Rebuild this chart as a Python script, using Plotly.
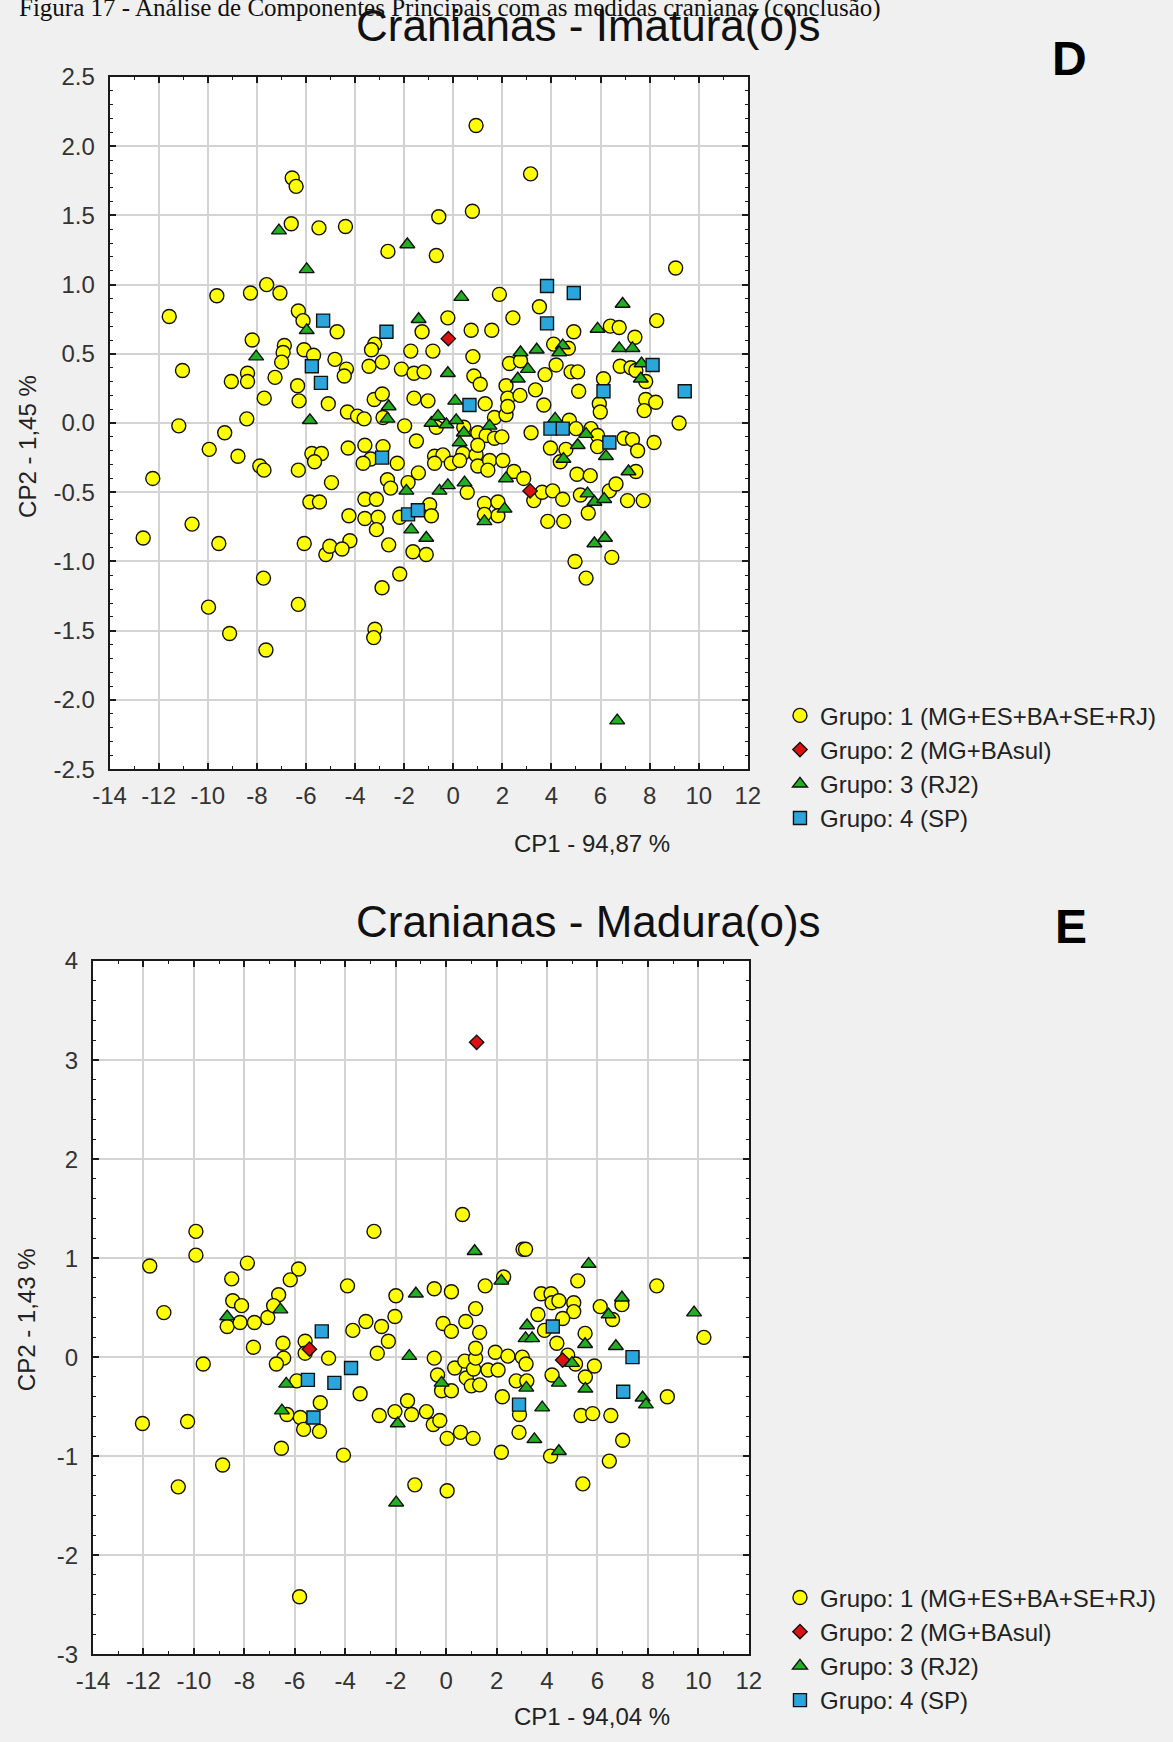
import plotly.graph_objects as go

W, H = 1173, 1742

GROUP_NAMES = [
    "Grupo: 1 (MG+ES+BA+SE+RJ)",
    "Grupo: 2 (MG+BAsul)",
    "Grupo: 3 (RJ2)",
    "Grupo: 4 (SP)",
]

# ---------------- Panel D: Cranianas - Imatura(o)s ----------------
d_g1_x = [0.93, 3.15, -6.56, -6.40, 0.78, -0.59, -6.60, -5.47, -4.39, -2.66, -0.69, 9.06,
          -9.63, -8.26, -7.60, -7.06, -11.57, -6.31, -6.12, -8.19, -6.88, -6.93, -6.08, -5.69,
          -6.99, -11.03, -9.04, -8.38, -8.38, -7.26, -6.34, -7.70, -6.28, -5.09, -11.18, -8.41,
          -9.31, -9.94, -8.77, -7.88, -7.71, -6.31, -12.24, -5.76, -5.37, -5.65,
          -12.63, -10.64, -9.55, -9.97, -9.11, -7.73, -7.63, -6.31, -6.07, -5.84, -5.45, -5.19,
          -5.03, -3.19, -3.24,
          1.88, 3.51, -0.22, 2.43, 8.29, -1.27, 0.73, 1.57, -4.73, 4.91, 6.40, 6.76, 7.40, -3.20,
          -3.33, -1.73, -0.83, 0.80, 4.09, 4.69, -4.82, -4.35, -4.44, -3.43, -2.89, -2.11, -1.60,
          -1.19, 0.84, 1.10, 2.29, 2.74, 4.19, 3.74, 4.80, 5.07, 6.80, 7.24, 7.44, 7.84, 2.15,
          3.35, 2.22, 2.72, 6.12, 5.11, 3.69, 5.95, 5.99, 7.84, 8.25, 7.78, 9.20, -3.22, -2.89,
          -1.60, -1.03, 1.30, -4.31, -3.90, -3.63, -2.86, -1.98, -0.69, 0.43, 1.68, 1.00, 1.34,
          1.68, 1.98, 2.15, 2.22, 3.17, 4.73, 5.00, 5.61, 5.88, 6.96, 7.30, 7.51, 8.18, -4.28,
          -3.60, -3.36, -3.67, -2.28, -2.86, -1.50, -0.76, -0.42, -0.08, -0.76, 0.39, 0.26, 0.93,
          1.00, 1.48, 1.41, 2.02, 1.00, 3.96, 4.59, 4.36, 5.88, -4.96, -1.42, -2.68, -2.55, -1.84,
          -3.60, -3.13, -4.25, -3.60, -3.06, -3.13, -2.18, -0.96, -0.89, 0.57, -2.63, -1.64,
          -1.10, -2.18, -2.90, -4.21, -4.53, 2.47, 2.87, 3.28, 3.62, 4.05, 4.46, 1.27, 1.82, 1.82,
          1.27, 3.85, 4.50, 5.04, 5.58, 5.18, 5.50, 6.36, 6.63, 7.10, 7.74, 7.44, 6.46, 4.96, 5.41]
d_g1_y = [2.15, 1.80, 1.77, 1.71, 1.53, 1.49, 1.44, 1.41, 1.42, 1.24, 1.21, 1.12,
          0.92, 0.94, 1.00, 0.94, 0.77, 0.81, 0.74, 0.60, 0.56, 0.51, 0.53, 0.49,
          0.44, 0.38, 0.30, 0.36, 0.30, 0.33, 0.27, 0.18, 0.16, 0.14, -0.02, 0.03,
          -0.07, -0.19, -0.24, -0.31, -0.34, -0.34, -0.40, -0.22, -0.22, -0.28,
          -0.83, -0.73, -0.87, -1.33, -1.52, -1.12, -1.64, -1.31, -0.87, -0.57, -0.57, -0.95,
          -0.89, -1.49, -1.55,
          0.93, 0.84, 0.76, 0.76, 0.74, 0.66, 0.67, 0.67, 0.66, 0.66, 0.70, 0.69, 0.62, 0.57,
          0.53, 0.52, 0.52, 0.48, 0.57, 0.54, 0.46, 0.39, 0.34, 0.41, 0.44, 0.39, 0.36,
          0.37, 0.34, 0.28, 0.43, 0.45, 0.42, 0.35, 0.37, 0.37, 0.41, 0.40, 0.38, 0.30, 0.27,
          0.24, 0.18, 0.20, 0.32, 0.23, 0.13, 0.14, 0.08, 0.17, 0.15, 0.09, 0.00, 0.17, 0.21,
          0.18, 0.16, 0.14, 0.08, 0.05, 0.03, 0.04, -0.02, -0.03, -0.03, 0.04, -0.07, -0.09,
          -0.11, -0.10, 0.06, 0.12, -0.07, 0.02, -0.04, -0.04, -0.09, -0.11, -0.12, -0.20, -0.14, -0.18,
          -0.16, -0.26, -0.29, -0.29, -0.17, -0.13, -0.24, -0.23, -0.29, -0.29, -0.22, -0.27, -0.23,
          -0.31, -0.27, -0.34, -0.27, -0.16, -0.18, -0.19, -0.28, -0.17, -0.43, -0.36, -0.41, -0.47, -0.43,
          -0.55, -0.55, -0.67, -0.69, -0.68, -0.77, -0.68, -0.59, -0.67, -0.50, -0.88, -0.93,
          -0.95, -1.09, -1.19, -0.85, -0.91, -0.35, -0.40, -0.56, -0.50, -0.49, -0.55, -0.58, -0.57, -0.67,
          -0.66, -0.71, -0.71, -0.37, -0.38, -0.52, -0.65, -0.49, -0.44, -0.56, -0.56, -0.35, -0.97, -1.00, -1.12]

d_g2_x = [-0.20, 3.13]
d_g2_y = [0.61, -0.49]

d_g3_x = [-7.10, -1.87, -5.97, -5.97, -8.03, -5.84, 6.68,
          0.33, 6.90, -1.41, 5.88, 2.74, 3.40, 4.46, 4.32, 6.76, 7.30, -0.22, 3.04, 7.67, 7.64,
          2.63, -2.63, -2.68, 0.08, -0.89, -0.62, -0.28, 0.12, 0.43, 0.26, 1.48, 4.15, 5.41, 5.07,
          6.22, 4.49, -1.91, -0.56, -0.22, 0.46, -1.71, -1.10, 2.15, 2.09, 1.27, 5.47, 5.75, 6.15,
          7.14, 5.75, 6.18]
d_g3_y = [1.39, 1.29, 1.11, 0.67, 0.48, 0.02, -2.15,
          0.91, 0.86, 0.75, 0.68, 0.51, 0.53, 0.56, 0.51, 0.54, 0.54, 0.36, 0.39, 0.43, 0.32,
          0.32, 0.12, 0.03, 0.16, 0.00, 0.05, -0.01, 0.02, -0.07, -0.14, -0.02, 0.03, -0.08, -0.16,
          -0.24, -0.26, -0.49, -0.49, -0.45, -0.43, -0.77, -0.83, -0.40, -0.62, -0.71, -0.51, -0.57, -0.55,
          -0.35, -0.87, -0.83]

d_g4_x = [-5.30, -5.76, -5.39, 3.82, 4.91, 3.82, -2.72, 8.12, 6.12, 9.43, 0.66, 3.96, 4.46,
          6.36, -2.90, -1.84, -1.44]
d_g4_y = [0.74, 0.41, 0.29, 0.99, 0.94, 0.72, 0.66, 0.42, 0.23, 0.23, 0.13, -0.04, -0.04,
          -0.14, -0.25, -0.66, -0.63]

# ---------------- Panel E: Cranianas - Madura(o)s ----------------
e_g1_x = [-9.92, -9.92, -11.75, -11.19, -8.50, -7.88, -8.46, -8.11, -8.68, -8.17, -7.60, -7.07,
          -7.64, -9.63, -12.04, -10.25, -8.86, -10.62, -5.81,
          0.65, -2.86, 3.05, 3.15, 8.35, 10.22, -5.85, -6.18, -6.64, -6.84, -3.91, -1.99, -0.47,
          0.21, 1.55, 2.28, 5.22, 3.77, 4.16, 4.20, 4.47, 5.06, 5.06, 3.64, 4.62, 6.11, 6.60, 6.97,
          1.17, -0.12, 0.21, 0.78, 1.33, -2.03, -3.18, -2.56, -3.70, -2.29, -2.73, 3.90, 4.39,
          5.51, -6.47, -6.44, -6.73, -5.59, -5.59, -4.66, -5.92, -3.41, -0.47, -0.34, -0.18, 0.21,
          0.34, 0.74, 0.80, 1.09, 1.17, 1.17, 1.00, 1.33, 1.66, 1.95, 2.06, 2.45, 3.02, 3.17, 2.78,
          3.20, 2.23, 2.91, 4.20, 4.82, 5.13, 5.52, 5.88, 8.77, 5.35, 5.81, 6.53, 7.00, 6.47, 5.42,
          4.14, 2.89, 2.19, 0.04, 0.57, 1.07, -0.51, -0.25, -0.78, -1.53, -1.37, -2.03, -2.65,
          -1.24, 0.04, -4.07, -6.53, -6.31, -5.78, -4.99, -5.65, -5.02]
e_g1_y = [1.27, 1.03, 0.92, 0.45, 0.79, 0.95, 0.57, 0.52, 0.31, 0.35, 0.35, 0.40,
          0.10, -0.07, -0.67, -0.65, -1.09, -1.31, -2.42,
          1.44, 1.27, 1.09, 1.09, 0.72, 0.20, 0.89, 0.78, 0.63, 0.52, 0.72, 0.62, 0.69,
          0.66, 0.72, 0.81, 0.77, 0.64, 0.64, 0.55, 0.57, 0.55, 0.46, 0.43, 0.39, 0.51, 0.38, 0.53,
          0.49, 0.34, 0.26, 0.36, 0.25, 0.41, 0.36, 0.31, 0.27, 0.16, 0.04, 0.27, 0.14,
          0.24, 0.14, -0.01, -0.07, 0.16, 0.04, -0.01, -0.24, -0.37, -0.01, -0.18, -0.34, -0.34,
          -0.11, -0.04, -0.21, -0.12, -0.01, 0.09, -0.29, -0.28, -0.13, 0.05, -0.13, 0.01, 0.00, -0.07, -0.24,
          -0.24, -0.40, -0.58, -0.18, 0.02, -0.07, -0.20, -0.09, -0.40, -0.59, -0.57, -0.59, -0.84, -1.05, -1.28,
          -1.00, -0.76, -0.96, -0.82, -0.76, -0.82, -0.68, -0.64, -0.55, -0.44, -0.58, -0.55, -0.59,
          -1.29, -1.35, -0.99, -0.92, -0.58, -0.61, -0.46, -0.73, -0.75]

e_g2_x = [1.21, -5.42, 4.62]
e_g2_y = [3.18, 0.08, -0.03]

e_g3_x = [-8.68, -6.57, 1.13, 5.65, 9.83, -1.20, 2.19, 6.44, 6.97, 3.21, 3.15, 3.41, 5.51,
          6.73, -6.34, -1.46, -0.18, 3.18, 4.99, 5.52, 4.47, 7.79, 7.92, 3.81, 4.47, 3.50,
          -1.92, -6.51, -1.98]
e_g3_y = [0.41, 0.48, 1.07, 0.94, 0.45, 0.64, 0.77, 0.43, 0.60, 0.32, 0.19, 0.19, 0.13,
          0.11, -0.27, 0.01, -0.26, -0.31, -0.06, -0.32, -0.26, -0.41, -0.48, -0.51, -0.95, -0.83,
          -0.67, -0.54, -1.47]

e_g4_x = [-4.93, -3.77, -5.48, -4.43, -5.26, 4.23, 7.39, 7.02, 2.89]
e_g4_y = [0.26, -0.11, -0.23, -0.26, -0.61, 0.31, 0.00, -0.35, -0.48]

# ---------------- axis ticks ----------------
x_tickvals = list(range(-14, 13, 2))
x_ticktext = [str(v) for v in x_tickvals]
d_y_tickvals = [-2.5, -2.0, -1.5, -1.0, -0.5, 0.0, 0.5, 1.0, 1.5, 2.0, 2.5]
d_y_ticktext = ["-2.5", "-2.0", "-1.5", "-1.0", "-0.5", "0.0", "0.5", "1.0", "1.5", "2.0", "2.5"]
e_y_tickvals = [-3, -2, -1, 0, 1, 2, 3, 4]
e_y_ticktext = ["-3", "-2", "-1", "0", "1", "2", "3", "4"]

FONT = "Liberation Sans, Arial, sans-serif"
TEXT = "#222222"

STYLES = [
    dict(symbol="circle", size=14, color="#ffff00"),
    dict(symbol="diamond", size=11, color="#dd1111"),
    dict(symbol="triangle-up", size=13, color="#22b022"),
    dict(symbol="square", size=13, color="#2aa6dc"),
]

# page-pixel layout of the two graph windows
TOP_BOX = dict(left=95, right=750, top=64, bottom=767)
BOT_BOX = dict(left=78, right=751, top=962, bottom=1666)


def px_x(p):
    return p / W


def px_y(p):
    return 1 - p / H


fig = go.Figure()

panels = [
    ("x", "y", "legend",
     [(d_g1_x, d_g1_y), (d_g2_x, d_g2_y), (d_g3_x, d_g3_y), (d_g4_x, d_g4_y)]),
    ("x2", "y2", "legend2",
     [(e_g1_x, e_g1_y), (e_g2_x, e_g2_y), (e_g3_x, e_g3_y), (e_g4_x, e_g4_y)]),
]
for xa, ya, leg, groups in panels:
    for name, (gx, gy), st in zip(GROUP_NAMES, groups, STYLES):
        fig.add_trace(go.Scatter(
            x=gx, y=gy, mode="markers", name=name, xaxis=xa, yaxis=ya, legend=leg,
            marker=dict(symbol=st["symbol"], size=st["size"], color=st["color"],
                        line=dict(color="#111111", width=1.4)),
            hoverinfo="skip",
        ))


def axis_common():
    return dict(
        showgrid=True, gridcolor="#d3d3d3", gridwidth=1.5,
        showline=True, linecolor="#1a1a1a", linewidth=2, mirror="allticks",
        ticks="inside", ticklen=6, tickwidth=1.5, tickcolor="#1a1a1a",
        zeroline=False, tickmode="array",
        tickfont=dict(family=FONT, size=24, color="#333333"),
        fixedrange=True,
    )


def minor(step):
    return dict(tickmode="linear", tick0=0, dtick=step, ticks="inside", ticklen=3,
                tickwidth=1, tickcolor="#1a1a1a", showgrid=False)


xa_top = axis_common()
xa_top.update(domain=[px_x(TOP_BOX["left"]), px_x(TOP_BOX["right"])], range=[-14, 12], anchor="y",
              tickvals=x_tickvals, ticktext=x_ticktext, ticklabelstandoff=4, minor=minor(1))
ya_top = axis_common()
ya_top.update(domain=[px_y(TOP_BOX["bottom"]), px_y(TOP_BOX["top"])], range=[-2.5, 2.5], anchor="x",
              tickvals=d_y_tickvals, ticktext=d_y_ticktext, ticklabelstandoff=8, minor=minor(0.1))
xa_bot = axis_common()
xa_bot.update(domain=[px_x(BOT_BOX["left"]), px_x(BOT_BOX["right"])], range=[-14, 12], anchor="y2",
              tickvals=x_tickvals, ticktext=x_ticktext, ticklabelstandoff=4, minor=minor(1))
ya_bot = axis_common()
ya_bot.update(domain=[px_y(BOT_BOX["bottom"]), px_y(BOT_BOX["top"])], range=[-3, 4], anchor="x2",
              tickvals=e_y_tickvals, ticktext=e_y_ticktext, ticklabelstandoff=8, minor=minor(0.2))

legend_style = dict(
    xanchor="left", yanchor="top", bgcolor="rgba(0,0,0,0)", borderwidth=0,
    font=dict(family=FONT, size=24, color=TEXT), itemsizing="trace",
    tracegroupgap=0, itemclick=False, itemdoubleclick=False,
)

annotations = [
    dict(text="Figura 17 - Análise de Componentes Principais com as medidas cranianas (conclusão)",
         x=px_x(0), y=px_y(-6), xanchor="left", yanchor="middle",
         font=dict(family="Liberation Serif, Times New Roman, serif", size=25, color="#111111")),
    dict(text="Cranianas - Imatura(o)s", x=px_x(586), y=px_y(12), xanchor="center", yanchor="middle",
         font=dict(family=FONT, size=44, color="#111111")),
    dict(text="<b>D</b>", x=px_x(1080), y=px_y(45), xanchor="center", yanchor="middle",
         font=dict(family=FONT, size=48, color="#000000")),
    dict(text="CP1 - 94,87 %", x=px_x(590), y=px_y(843), xanchor="center", yanchor="middle",
         font=dict(family=FONT, size=24, color=TEXT)),
    dict(text="CP2 - 1,45 %", x=px_x(10), y=px_y(439), xanchor="center", yanchor="middle",
         textangle=-90, font=dict(family=FONT, size=24, color=TEXT)),
    dict(text="Cranianas - Madura(o)s", x=px_x(586), y=px_y(922), xanchor="center", yanchor="middle",
         font=dict(family=FONT, size=44, color="#111111")),
    dict(text="<b>E</b>", x=px_x(1082), y=px_y(927), xanchor="center", yanchor="middle",
         font=dict(family=FONT, size=48, color="#000000")),
    dict(text="CP1 - 94,04 %", x=px_x(590), y=px_y(1729), xanchor="center", yanchor="middle",
         font=dict(family=FONT, size=24, color=TEXT)),
    dict(text="CP2 - 1,43 %", x=px_x(10), y=px_y(1326), xanchor="center", yanchor="middle",
         textangle=-90, font=dict(family=FONT, size=24, color=TEXT)),
]
for a in annotations:
    a.update(xref="paper", yref="paper", showarrow=False)

fig.update_layout(
    width=W, height=H, autosize=False,
    margin=dict(l=0, r=0, t=0, b=0),
    paper_bgcolor="#f0f0f0", plot_bgcolor="white",
    font=dict(family=FONT, color=TEXT),
    xaxis=xa_top, yaxis=ya_top, xaxis2=xa_bot, yaxis2=ya_bot,
    legend=dict(x=px_x(783), y=px_y(690), **legend_style),
    legend2=dict(x=px_x(783), y=px_y(1586), **legend_style),
    annotations=annotations,
    showlegend=True,
)

fig.write_html("out.html", config={"displayModeBar": False})
